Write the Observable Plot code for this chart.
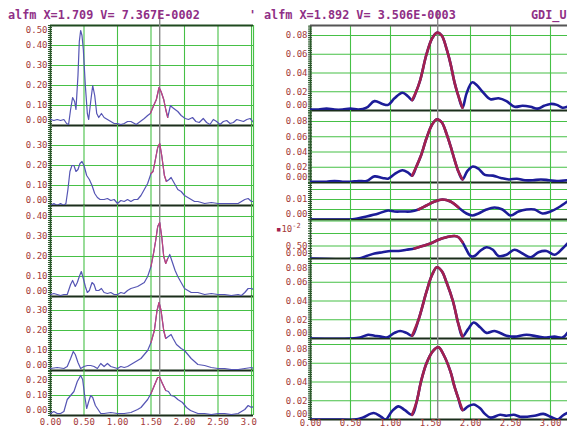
<!DOCTYPE html>
<html><head><meta charset="utf-8">
<script src="https://cdn.jsdelivr.net/npm/d3@7"></script>
<script src="https://cdn.jsdelivr.net/npm/@observablehq/plot@0.6"></script>
<style>
body{margin:0;background:#fff}
#wrap{position:relative;width:567px;height:430px;overflow:hidden;background:#fff}
.hdr{position:absolute;font:bold 11.8px "DejaVu Sans Mono",monospace;color:#8f2f86;white-space:pre;line-height:14px}
.unit{position:absolute;font:9px "DejaVu Sans Mono",monospace;color:#a53a3a;white-space:pre}
</style></head><body><div id="wrap"></div>
<script>
// ---------- data (x, value) ----------
const L1 = [[0,0.03],[0.05,0.025],[0.1,0.03],[0.15,0.025],[0.2,0.03],[0.24,0.01],[0.27,0.005],[0.3,0.08],[0.33,0.14],[0.36,0.12],[0.38,0.08],[0.41,0.25],[0.43,0.42],[0.45,0.475],[0.47,0.45],[0.49,0.38],[0.52,0.2],[0.55,0.06],[0.57,0.03],[0.6,0.12],[0.63,0.2],[0.66,0.15],[0.69,0.06],[0.72,0.04],[0.76,0.06],[0.8,0.04],[0.85,0.03],[0.9,0.02],[0.95,0.01],[1.0,0.01],[1.05,0.005],[1.1,0.01],[1.15,0.02],[1.2,0.02],[1.28,0.005],[1.34,0.02],[1.4,0.035],[1.45,0.05],[1.49,0.06],[1.54,0.1],[1.58,0.13],[1.62,0.19],[1.65,0.17],[1.69,0.13],[1.72,0.08],[1.75,0.04],[1.79,0.1],[1.82,0.09],[1.86,0.08],[1.9,0.07],[1.95,0.05],[2.01,0.035],[2.06,0.03],[2.12,0.04],[2.17,0.02],[2.22,0.015],[2.28,0.035],[2.33,0.015],[2.38,0.005],[2.43,0.03],[2.48,0.02],[2.53,0.005],[2.58,0.02],[2.63,0.025],[2.68,0.01],[2.73,0.015],[2.78,0.03],[2.83,0.025],[2.88,0.02],[2.93,0.03],[2.98,0.035],[3.03,0.015]];
const L2 = [[0,0.0],[0.05,0.01],[0.1,0.0],[0.15,0.01],[0.2,0.0],[0.23,0.01],[0.26,0.08],[0.29,0.17],[0.32,0.2],[0.35,0.2],[0.38,0.17],[0.41,0.18],[0.44,0.21],[0.47,0.22],[0.5,0.2],[0.54,0.15],[0.58,0.13],[0.62,0.1],[0.66,0.06],[0.7,0.04],[0.74,0.03],[0.8,0.03],[0.85,0.035],[0.9,0.025],[0.95,0.03],[1.0,0.01],[1.05,0.025],[1.1,0.02],[1.15,0.03],[1.2,0.02],[1.25,0.03],[1.3,0.03],[1.35,0.05],[1.4,0.08],[1.45,0.11],[1.5,0.16],[1.53,0.17],[1.56,0.22],[1.6,0.29],[1.63,0.31],[1.66,0.25],[1.7,0.15],[1.73,0.12],[1.77,0.13],[1.8,0.14],[1.85,0.11],[1.9,0.08],[1.95,0.07],[2.0,0.05],[2.05,0.04],[2.1,0.03],[2.15,0.02],[2.2,0.02],[2.3,0.01],[2.4,0.015],[2.5,0.01],[2.6,0.01],[2.7,0.01],[2.8,0.01],[2.9,0.03],[2.95,0.035],[3.0,0.02],[3.03,0.02]];
const L3 = [[0,0.01],[0.05,0.015],[0.1,0.01],[0.15,0.005],[0.2,0.01],[0.25,0.01],[0.3,0.06],[0.33,0.08],[0.37,0.05],[0.4,0.07],[0.43,0.1],[0.46,0.125],[0.49,0.09],[0.52,0.05],[0.55,0.02],[0.58,0.03],[0.62,0.07],[0.65,0.06],[0.68,0.03],[0.72,0.03],[0.76,0.04],[0.8,0.02],[0.85,0.015],[0.9,0.02],[0.95,0.01],[1.0,0.01],[1.05,0.02],[1.1,0.015],[1.15,0.03],[1.2,0.04],[1.25,0.045],[1.3,0.05],[1.35,0.06],[1.4,0.07],[1.45,0.1],[1.5,0.15],[1.54,0.22],[1.57,0.28],[1.6,0.35],[1.63,0.37],[1.66,0.3],[1.69,0.2],[1.72,0.165],[1.75,0.19],[1.78,0.21],[1.82,0.17],[1.86,0.13],[1.9,0.1],[1.95,0.07],[2.0,0.04],[2.05,0.03],[2.1,0.02],[2.2,0.02],[2.3,0.01],[2.4,0.015],[2.5,0.01],[2.6,0.01],[2.7,0.005],[2.8,0.01],[2.85,0.005],[2.9,0.02],[2.95,0.04],[3.0,0.04],[3.03,0.035]];
const L4 = [[0,0.01],[0.1,0.015],[0.2,0.01],[0.25,0.02],[0.3,0.06],[0.34,0.095],[0.37,0.08],[0.41,0.04],[0.45,0.01],[0.5,0.02],[0.55,0.025],[0.6,0.025],[0.65,0.02],[0.7,0.01],[0.75,0.035],[0.8,0.02],[0.85,0.035],[0.9,0.02],[0.95,0.015],[1.0,0.01],[1.05,0.02],[1.1,0.015],[1.15,0.02],[1.2,0.03],[1.25,0.04],[1.3,0.05],[1.35,0.06],[1.4,0.08],[1.45,0.1],[1.5,0.14],[1.55,0.2],[1.59,0.3],[1.62,0.34],[1.65,0.3],[1.69,0.2],[1.72,0.16],[1.76,0.17],[1.8,0.18],[1.83,0.16],[1.88,0.13],[1.95,0.11],[2.0,0.1],[2.05,0.08],[2.1,0.06],[2.15,0.045],[2.2,0.03],[2.3,0.025],[2.4,0.015],[2.5,0.01],[2.6,0.01],[2.7,0.005],[2.8,0.005],[2.9,0.01],[3.0,0.015],[3.03,0.01]];
const L5 = [[0,0.01],[0.05,0.02],[0.1,0.01],[0.15,0.01],[0.2,0.02],[0.25,0.08],[0.3,0.1],[0.35,0.12],[0.4,0.17],[0.45,0.2],[0.48,0.18],[0.51,0.1],[0.54,0.035],[0.57,0.07],[0.6,0.1],[0.63,0.09],[0.67,0.05],[0.7,0.035],[0.75,0.01],[0.8,0.01],[0.9,0.015],[1.0,0.01],[1.1,0.01],[1.2,0.015],[1.3,0.03],[1.35,0.04],[1.4,0.06],[1.45,0.08],[1.5,0.11],[1.55,0.15],[1.6,0.19],[1.63,0.19],[1.67,0.16],[1.72,0.125],[1.76,0.12],[1.8,0.1],[1.85,0.095],[1.9,0.08],[1.97,0.065],[2.03,0.04],[2.09,0.025],[2.2,0.01],[2.3,0.01],[2.4,0.005],[2.5,0.01],[2.6,0.01],[2.7,0.005],[2.8,0.01],[2.9,0.03],[2.95,0.05],[3.0,0.04],[3.03,0.045]];

const R1 = [[0,0.001],[0.1,0.001],[0.2,0.002],[0.3,0.001],[0.4,0.001],[0.5,0.002],[0.6,0.001],[0.7,0.003],[0.8,0.01],[0.9,0.007],[0.97,0.006],[1.05,0.013],[1.15,0.019],[1.22,0.015],[1.27,0.011],[1.32,0.02],[1.37,0.032],[1.45,0.06],[1.52,0.077],[1.58,0.083],[1.64,0.08],[1.7,0.066],[1.75,0.05],[1.8,0.03],[1.85,0.015],[1.9,0.003],[1.95,0.018],[2.02,0.03],[2.08,0.027],[2.15,0.02],[2.25,0.012],[2.35,0.013],[2.45,0.01],[2.55,0.004],[2.65,0.005],[2.75,0.004],[2.84,0.002],[2.92,0.005],[3.0,0.007],[3.08,0.006],[3.15,0.003],[3.21,0.004]];
const R2 = [[0,0.001],[0.1,0.001],[0.2,0.001],[0.3,0.002],[0.4,0.001],[0.5,0.001],[0.6,0.002],[0.7,0.002],[0.8,0.008],[0.9,0.006],[0.97,0.005],[1.05,0.011],[1.15,0.016],[1.22,0.013],[1.27,0.009],[1.32,0.02],[1.38,0.035],[1.45,0.058],[1.52,0.076],[1.58,0.083],[1.64,0.079],[1.7,0.064],[1.75,0.048],[1.8,0.03],[1.85,0.014],[1.9,0.004],[1.96,0.015],[2.03,0.021],[2.1,0.018],[2.18,0.01],[2.28,0.009],[2.38,0.006],[2.48,0.004],[2.58,0.005],[2.68,0.003],[2.78,0.003],[2.88,0.004],[2.98,0.003],[3.08,0.002],[3.21,0.003]];
const R3 = [[0,0],[0.5,0],[0.55,0.0002],[0.7,0.0015],[0.85,0.003],[0.97,0.0045],[1.05,0.004],[1.15,0.004],[1.25,0.004],[1.35,0.005],[1.45,0.007],[1.55,0.009],[1.65,0.01],[1.75,0.009],[1.85,0.006],[1.95,0.003],[2.02,0.002],[2.1,0.003],[2.2,0.005],[2.3,0.006],[2.4,0.005],[2.5,0.002],[2.6,0.004],[2.7,0.005],[2.8,0.005],[2.9,0.003],[3.0,0.004],[3.1,0.006],[3.21,0.009]];
const R4 = [[0,0],[0.6,0],[0.7,0.1],[0.8,0.2],[0.9,0.25],[1.0,0.3],[1.1,0.3],[1.2,0.35],[1.3,0.4],[1.4,0.5],[1.5,0.6],[1.6,0.75],[1.7,0.85],[1.8,0.9],[1.85,0.85],[1.9,0.65],[1.95,0.35],[2.0,0.1],[2.05,0.1],[2.12,0.3],[2.2,0.45],[2.28,0.35],[2.35,0.1],[2.45,0.15],[2.55,0.35],[2.65,0.2],[2.75,0.05],[2.85,0.25],[2.95,0.3],[3.05,0.15],[3.15,0.4],[3.21,0.6]];
const R5 = [[0,0],[0.5,0],[0.62,0.001],[0.72,0.004],[0.8,0.003],[0.88,0.002],[0.95,0.001],[1.05,0.006],[1.12,0.008],[1.2,0.006],[1.27,0.003],[1.35,0.02],[1.45,0.05],[1.52,0.068],[1.58,0.076],[1.64,0.072],[1.7,0.06],[1.78,0.04],[1.85,0.015],[1.9,0.002],[1.97,0.01],[2.04,0.017],[2.12,0.012],[2.2,0.006],[2.3,0.008],[2.45,0.003],[2.55,0.002],[2.7,0.004],[2.85,0.002],[2.95,0.001],[3.05,0.002],[3.15,0.001],[3.21,0.006]];
const R6 = [[0,0],[0.3,0],[0.55,0],[0.65,0.002],[0.79,0.007],[0.88,0.003],[0.94,0],[1.02,0.009],[1.1,0.014],[1.18,0.01],[1.27,0.005],[1.33,0.02],[1.38,0.04],[1.45,0.06],[1.53,0.073],[1.6,0.077],[1.67,0.068],[1.75,0.051],[1.8,0.035],[1.85,0.022],[1.9,0.01],[1.97,0.014],[2.04,0.016],[2.12,0.012],[2.18,0.006],[2.25,0.002],[2.37,0.005],[2.45,0.004],[2.54,0.005],[2.62,0.003],[2.71,0.003],[2.8,0.004],[2.91,0.006],[3.0,0.003],[3.09,0],[3.15,0.004],[3.21,0.007]];

const leftTicks = [[0,0.1,0.2,0.3,0.4,0.5],[0,0.1,0.2,0.3],[0,0.1,0.2,0.3,0.4],[0,0.1,0.2,0.3],[0,0.1,0.2]];
const rightTicks = [[0,0.02,0.04,0.06,0.08],[0,0.02,0.04,0.06,0.08],[0,0.01],[0,0.5],[0,0.02,0.04,0.06,0.08],[0,0.02,0.04,0.06,0.08]];
const xTickLabels = ["0.00","0.50","1.00","1.50","2.00","2.50","3.00"];
const xTickValues = [0,0.5,1,1.5,2,2.5,3];
const leftRed = [1.46,1.75], rightRed = [1.27,1.9];
const leftCursor = 1.63, rightCursor = 1.59;
const headers = ["alfm X=1.709 V= 7.367E-0002", "alfm X=1.892 V= 3.506E-0003", "GDI_U"];

// ---------- drawing ----------
const wrap = document.getElementById("wrap");
const FONT = "DejaVu Sans Mono";
const LAB = "#a53a3a", GRID = "#46c046", DARK = "#1b2e1b", AXIS = "#2c5a2c";

function sub(o) {
  const h = o.bottom - o.top;
  const mb = o.xlabels ? 16 : 0;
  const width = o.svgRight - o.svgLeft;
  const ml = o.axisPx - o.svgLeft;
  const mr = o.svgRight - o.rightPx;
  const pts = o.data.map(([x, y]) => ({x, y}));
  const redPts = pts.filter(d => d.x >= o.red[0] && d.x <= o.red[1]);
  const grid = o.grid.filter(t => t > 0);
  const minor = d3.range(0, o.ymax + 1e-9, o.minor);
  const mid = o.ticks.filter(t => t > 0 && t < o.ymax - o.edgeTol);
  const topT = o.ticks.filter(t => t >= o.ymax - o.edgeTol);
  const fmt = t => t.toFixed(2);
  const txt = {x: 0, text: fmt, textAnchor: "end", dx: -3, fill: LAB, fontSize: 9, fontFamily: FONT};
  const marks = [
    Plot.ruleY(grid, {stroke: GRID, strokeWidth: 1.1}),
    Plot.ruleX(xTickValues.filter(v => v > 0), {stroke: GRID, strokeWidth: 1.1}),
    o.edge ? Plot.ruleX([o.xmax], {stroke: GRID, strokeWidth: 1.2}) : null,
    Plot.ruleY(minor, {x1: -o.minorW, x2: o.minorW, stroke: AXIS, strokeWidth: 1}),
    Plot.ruleX([0], {stroke: AXIS, strokeWidth: 1.5}),
    Plot.ruleY([0], {stroke: DARK, strokeWidth: 2}),
    o.topFrame ? Plot.ruleY([o.ymax], {stroke: o.topColor, strokeWidth: 2}) : null,
    Plot.ruleX([o.cursor], {y1: 0, y2: o.topFrame ? o.ymax * (1 + 15 / h) : o.ymax, stroke: "#8a8a8a", strokeWidth: 1.4}),
    Plot.line(pts, {x: "x", y: "y", stroke: o.blue, strokeWidth: o.lw, curve: o.curve, clip: true}),
    Plot.line(redPts, {x: "x", y: "y", stroke: o.redC, strokeWidth: o.lw, curve: o.curve, clip: true}),
    Plot.text(mid, {...txt, y: d => d}),
    Plot.text([0], {...txt, y: d => d, dy: -5}),
    Plot.text(topT, {...txt, y: d => d, dy: 5}),
    o.xlabels ? Plot.text(xTickValues, {x: d => d, frameAnchor: "bottom", dy: o.xdy, text: (d, i) => xTickLabels[i], fill: LAB, fontSize: 9, fontFamily: FONT}) : null
  ].filter(Boolean);
  const svg = Plot.plot({
    width, height: h + mb, marginLeft: ml, marginRight: mr, marginTop: 0, marginBottom: mb,
    x: {domain: [0, o.xmax], axis: null},
    y: {domain: [0, o.ymax], axis: null},
    style: {background: "transparent", overflow: o.clip ? "hidden" : "visible"},
    marks
  });
  svg.style.position = "absolute";
  svg.style.left = o.svgLeft + "px";
  svg.style.top = o.top + "px";
  wrap.appendChild(svg);
}

// left panel: axis at 50px, right edge 253px, 67 px per unit, 200 px per value unit
const leftRows = [[L1, 25, 125], [L2, 125, 205], [L3, 205, 296], [L4, 296, 370], [L5, 370, 415]];
leftRows.forEach(([data, top, bottom], i) => {
  const ymax = (bottom - top) / 200;
  sub({data, top, bottom, ymax, xmax: 203 / 67, svgLeft: 0, svgRight: 257, axisPx: 50, rightPx: 253,
    ticks: leftTicks[i], grid: leftTicks[i], minor: 0.01, minorW: 0.03, edgeTol: 0.03,
    red: leftRed, cursor: leftCursor, blue: "#5555b4", redC: "#c2447c", lw: 1.2, curve: "linear",
    topFrame: i === 0, topColor: "#1f4a1f", xlabels: i === 4, xdy: 9, clip: i === 4, edge: true});
});

// right panel: axis at 310px, 80 px per unit
const rightRows = [
  [R1, 25, 110, 937.5, [0.02,0.04,0.06,0.08], 0.002],
  [R2, 110, 182, 762.5, [0.02,0.04,0.06,0.08], 0.002],
  [R3, 182, 219, 2000, [0.005,0.01,0.015], 0.001],
  [R4, 219, 258, 25, [0.5,1.0,1.5], 0.1],
  [R5, 258, 338, 937.5, [0.02,0.04,0.06,0.08], 0.002],
  [R6, 338, 419, 937.5, [0.02,0.04,0.06,0.08], 0.002]
];
rightRows.forEach(([data, top, bottom, ppu, grid, minor], i) => {
  const ymax = (bottom - top) / ppu;
  sub({data, top, bottom, ymax, xmax: 257 / 80, svgLeft: 262, svgRight: 567, axisPx: 310, rightPx: 567,
    ticks: rightTicks[i], grid, minor, minorW: 0.025, edgeTol: ymax * 0.08,
    red: rightRed, cursor: rightCursor, blue: "#1c1c98", redC: "#a3204f", lw: 2.6, curve: "catmull-rom",
    topFrame: i === 0, topColor: "#555", xlabels: i === 5, xdy: 6, clip: false, edge: false});
});

// headers and unit note
function addDiv(cls, text, left, top, extra) {
  const d = document.createElement("div");
  d.className = cls; d.style.left = left + "px"; d.style.top = top + "px";
  if (extra) Object.assign(d.style, extra);
  d.textContent = text; wrap.appendChild(d); return d;
}
addDiv("hdr", headers[0], 8, 8);
addDiv("hdr", "'", 249, 8);
addDiv("hdr", headers[1], 264, 8);
addDiv("hdr", headers[2], 531, 8);
const u = addDiv("unit", "", 276, 222);
u.innerHTML = '<span style="color:#a3204f">&#9642;</span>10<sup style="font-size:7px">-2</sup>';
</script></body></html>
